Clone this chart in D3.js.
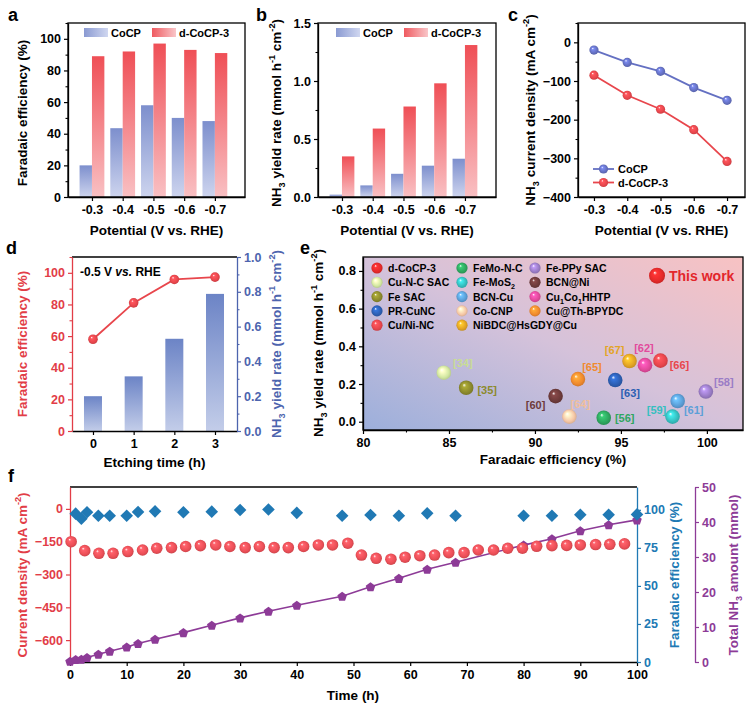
<!DOCTYPE html>
<html><head><meta charset="utf-8">
<script src="https://cdn.jsdelivr.net/npm/d3@7"></script>
<style>body{margin:0;background:#fff}</style>
</head><body>
<svg id="chart" width="751" height="705"></svg>
<script>
// ---------------- DATA ----------------
const potentialLabels = ["-0.3", "-0.4", "-0.5", "-0.6", "-0.7"];
const potentials = [-0.3, -0.4, -0.5, -0.6, -0.7];
const seriesNames = ["CoCP", "d-CoCP-3"];
const feCoCP = [20, 43.5, 58, 50, 48];
const feDCoCP3 = [89, 92, 97, 93, 91];
const yieldCoCP = [0.02, 0.10, 0.20, 0.27, 0.33];
const yieldDCoCP3 = [0.35, 0.59, 0.78, 0.98, 1.31];
const currentCoCP = [-20, -52, -75, -117, -150];
const currentDCoCP3 = [-85, -137, -173, -226, -308];

const etchingTimes = [0, 1, 2, 3];
const etchingFE = [58, 81, 95.8, 97.3];
const etchingYield = [0.20, 0.314, 0.53, 0.788];

const catalystNames = ["d-CoCP-3", "Cu-N-C SAC", "Fe SAC", "PR-CuNC", "Cu/Ni-NC",
  "FeMo-N-C", "Fe-MoS2", "BCN-Cu", "Co-CNP", "NiBDC@HsGDY@Cu",
  "Fe-PPy SAC", "BCN@Ni", "Cu1Co1HHTP", "Cu@Th-BPYDC"];
const catalystFE = [97.1, 84.7, 86.0, 94.67, 97.3, 94.0, 98.0, 98.3, 92.0, 95.5, 99.94, 91.2, 96.4, 92.5];
const catalystYield = [0.775, 0.26, 0.18, 0.221, 0.324, 0.021, 0.027, 0.11, 0.027, 0.322, 0.16, 0.136, 0.30, 0.226];
const catalystRefs = ["This work", "[34]", "[35]", "[63]", "[66]", "[56]", "[59]", "[61]", "[64]", "[67]", "[58]", "[60]", "[62]", "[65]"];

const stabTimeJ = [0.2, 2.6, 5.1, 7.6, 10.2, 12.8, 15.3, 17.9, 20.4, 23, 25.7, 28.2, 30.9, 33.4, 36, 38.5, 41.2, 43.8, 46.3, 49,
  51.4, 54, 56.6, 59.1, 61.7, 64.3, 66.8, 69.5, 72, 74.7, 77.2, 79.8, 82.3, 85, 87.6, 90, 92.7, 95.2, 97.8];
const stabCurrent = [-150, -191, -203, -203, -195, -188, -180, -177, -172, -168, -165, -172, -177, -172, -177, -177, -172, -165, -165, -157,
  -211, -226, -230, -221, -214, -211, -200, -200, -188, -188, -180, -180, -171, -168, -167, -165, -163, -162, -160];
const stabTimeFE = [1, 2, 3, 5, 7, 10, 12, 15, 20, 25, 30, 35, 40, 48, 53, 58, 63, 68, 80, 85, 90, 95, 100];
const stabFE = [97.5, 94.2, 98.4, 96.1, 96.1, 96.1, 98.6, 99, 98.4, 98.8, 99.9, 100.2, 98, 96.1, 96.6, 96.1, 97.7, 96.1, 96.1, 96.1, 96.8, 96.8, 97];
const stabTimeNH3 = [0, 1, 2, 3, 5, 7, 10, 12, 15, 20, 25, 30, 35, 40, 48, 53, 58, 63, 68, 80, 85, 90, 95, 100];
const stabNH3 = [0.2, 0.7, 0.8, 1.3, 2.2, 3.1, 4.3, 5.3, 6.5, 8.4, 10.5, 12.6, 14.5, 16.2, 18.8, 21.5, 23.9, 26.5, 28.5, 33.4, 35.2, 37.5, 39.2, 40.6];

// ---------------- STYLE ----------------
const FONT = '"Liberation Sans", Arial, Helvetica, sans-serif';
const TICK_FS = 12.5, TITLE_FS = 13.5;
const catalystColors = ["#e52a2a", "#d3e8a2", "#8c8a2c", "#2c5fb3", "#e8464c", "#2ea65f", "#35bfc0", "#5b9fd8",
  "#f6c7a6", "#e3a424", "#9a7cc6", "#6e3b3b", "#e24a9c", "#f08a2e"];
const refOffsets = [[0, 0], [19, -10], [21, 2], [15, 13], [19, 4], [21, 0], [-16, -7], [16, 9], [11, -13], [-15, -11], [18, -10], [-20, 9], [-1, -17], [14, -12]];

const svg = d3.select("#chart");
const defs = svg.append("defs");

function linGrad(id, c1, c2, horiz) {
  const g = defs.append("linearGradient").attr("id", id)
    .attr("x1", 0).attr("y1", 0).attr("x2", horiz ? 1 : 0).attr("y2", horiz ? 0 : 1);
  g.append("stop").attr("offset", 0).attr("stop-color", c1);
  g.append("stop").attr("offset", 1).attr("stop-color", c2);
  return `url(#${id})`;
}
let sphereCount = 0;
function sphere(color) {
  const id = "sph" + (sphereCount++);
  const g = defs.append("radialGradient").attr("id", id)
    .attr("cx", 0.5).attr("cy", 0.5).attr("r", 0.55).attr("fx", 0.35).attr("fy", 0.3);
  const c = d3.color(color);
  g.append("stop").attr("offset", 0).attr("stop-color", "#ffffff");
  g.append("stop").attr("offset", 0.22).attr("stop-color", c.brighter(0.6).formatHex());
  g.append("stop").attr("offset", 0.7).attr("stop-color", color);
  g.append("stop").attr("offset", 1).attr("stop-color", c.darker(0.5).formatHex());
  return `url(#${id})`;
}

function rich(sel, parts, fs) {
  let cur = 0;
  parts.forEach(p => {
    let shift = 0, size = fs;
    if (p.sub) { shift = fs * 0.3; size = fs * 0.68; }
    if (p.sup) { shift = -fs * 0.4; size = fs * 0.68; }
    sel.append("tspan").attr("dy", shift - cur).attr("font-size", size).text(p.t);
    cur = shift;
  });
  return sel;
}
function txt(x, y, str, opts = {}) {
  return svg.append("text").attr("x", x).attr("y", y)
    .attr("font-family", FONT).attr("font-weight", "bold")
    .attr("font-size", opts.fs || TITLE_FS).attr("fill", opts.color || "#000")
    .attr("text-anchor", opts.anchor || "start").text(str);
}
function vtitle(cx, cy, parts, color, fs = TITLE_FS) {
  const t = svg.append("text").attr("transform", `translate(${cx + fs * 0.36},${cy}) rotate(-90)`)
    .attr("text-anchor", "middle").attr("font-family", FONT).attr("font-weight", "bold")
    .attr("font-size", fs).attr("fill", color);
  return rich(t, parts, fs);
}
function htitle(cx, cy, parts, color = "#000", fs = TITLE_FS) {
  const t = svg.append("text").attr("x", cx).attr("y", cy + fs * 0.36)
    .attr("text-anchor", "middle").attr("font-family", FONT).attr("font-weight", "bold")
    .attr("font-size", fs).attr("fill", color);
  return rich(t, parts, fs);
}
function axis(gen, tx, ty, color = "#000", fs = TICK_FS) {
  const g = svg.append("g").attr("transform", `translate(${tx},${ty})`).call(gen);
  g.attr("font-size", null).attr("font-family", null);
  g.selectAll(".domain").attr("stroke", color).attr("stroke-width", 1.3);
  g.selectAll(".tick line").attr("stroke", color).attr("stroke-width", 1.2);
  g.selectAll(".tick text").attr("fill", color).attr("font-size", fs)
    .attr("font-weight", "bold").attr("font-family", FONT);
  return g;
}
function minor(gen, tx, ty, color = "#000") {
  const g = svg.append("g").attr("transform", `translate(${tx},${ty})`)
    .call(gen.tickSize(2.5).tickFormat(""));
  g.select(".domain").remove();
  g.selectAll(".tick line").attr("stroke", color).attr("stroke-width", 1.1);
  return g;
}
function frame(x0, y0, x1, y1) {
  svg.append("rect").attr("x", x0).attr("y", y0).attr("width", x1 - x0).attr("height", y1 - y0)
    .attr("fill", "none").attr("stroke", "#000").attr("stroke-width", 1.3);
}
function hline(x0, x1, y, c) { svg.append("line").attr("x1", x0).attr("x2", x1).attr("y1", y).attr("y2", y).attr("stroke", c).attr("stroke-width", 1.3); }

const yieldTitle = [{ t: "NH" }, { t: "3", sub: 1 }, { t: " yield rate (mmol h" }, { t: "-1", sup: 1 }, { t: " cm" }, { t: "-2", sup: 1 }, { t: ")" }];
const potTitle = [{ t: "Potential (V vs. RHE)" }];

const blueTop = "#7d8fcd", blueBot = "#cdd4ee", redTop = "#ef4f56", redBot = "#f9c0c3";

// ---------------- PANEL a & b ----------------
function barPanel(px0, px1, dom, yDom, yTicks, yMinor, fmt, v1, v2, legendX, title, titleX) {
  const top = 23, bot = 197;
  const x = d3.scaleLinear().domain(dom).range([px0, px1]);
  const y = d3.scaleLinear().domain(yDom).range([bot, top]);
  const bw = 12.4;
  potentials.forEach((p, i) => {
    svg.append("rect").attr("x", x(p) - bw).attr("y", y(v1[i])).attr("width", bw).attr("height", y(0) - y(v1[i]))
      .attr("fill", linGrad(`gb${px0}_${i}`, blueTop, blueBot));
    svg.append("rect").attr("x", x(p)).attr("y", y(v2[i])).attr("width", bw).attr("height", y(0) - y(v2[i]))
      .attr("fill", linGrad(`gr${px0}_${i}`, redTop, redBot));
  });
  axis(d3.axisLeft(y).tickValues(yTicks).tickFormat(fmt).tickSize(4).tickSizeOuter(0), px0, 0);
  minor(d3.axisLeft(y).tickValues(yMinor), px0, 0);
  axis(d3.axisBottom(x).tickValues(potentials).tickFormat((d, i) => potentialLabels[i]).tickSize(4).tickSizeOuter(0).tickPadding(4), 0, bot);
  frame(px0, top, px1, bot);
  // legend
  svg.append("rect").attr("x", legendX[0]).attr("y", 28).attr("width", 24).attr("height", 9).attr("fill", linGrad(`lb${px0}`, "#8a9ad2", "#d0d7f0", true));
  txt(legendX[0] + 27, 37, seriesNames[0], { fs: 11 });
  svg.append("rect").attr("x", legendX[1]).attr("y", 28).attr("width", 24).attr("height", 9).attr("fill", linGrad(`lr${px0}`, "#ef5a60", "#f9c6c9", true));
  txt(legendX[1] + 27, 37, seriesNames[1], { fs: 11 });
  vtitle(titleX, (top + bot) / 2 + 3, title, "#000");
  htitle((px0 + px1) / 2, 230, potTitle);
}
barPanel(68, 245, [-0.222, -0.798], [0, 110], d3.range(0, 101, 20), d3.range(10, 111, 20), d3.format("d"),
  feCoCP, feDCoCP3, [84, 152], [{ t: "Faradaic efficiency (%)" }], 22);
barPanel(318, 496, [-0.222, -0.801], [0, 1.5], [0, 0.5, 1.0, 1.5], [0.25, 0.75, 1.25], d3.format(".1f"),
  yieldCoCP, yieldDCoCP3, [336, 404], yieldTitle, 276);
txt(8, 21, "a", { fs: 18 });
txt(256, 21, "b", { fs: 18 });

// ---------------- PANEL c ----------------
(function () {
  const x0 = 578, x1 = 745, top = 23, bot = 197;
  const x = d3.scaleLinear().domain([-0.252, -0.754]).range([x0, x1]);
  const y = d3.scaleLinear().domain([-400, 50]).range([bot, top]);
  axis(d3.axisLeft(y).tickValues(d3.range(-400, 1, 100)).tickSize(4).tickSizeOuter(0), x0, 0);
  minor(d3.axisLeft(y).tickValues(d3.range(-350, 51, 100)), x0, 0);
  axis(d3.axisBottom(x).tickValues(potentials).tickFormat((d, i) => potentialLabels[i]).tickSize(4).tickSizeOuter(0).tickPadding(4), 0, bot);
  frame(x0, top, x1, bot);
  const cols = ["#6470c2", "#e8464c"];
  [currentCoCP, currentDCoCP3].forEach((vals, k) => {
    const line = d3.line().x((d, i) => x(potentials[i])).y(d => y(d));
    svg.append("path").attr("d", line(vals)).attr("fill", "none").attr("stroke", cols[k]).attr("stroke-width", 1.8);
    const f = sphere(cols[k]);
    vals.forEach((v, i) => svg.append("circle").attr("cx", x(potentials[i])).attr("cy", y(v)).attr("r", 4.6).attr("fill", f));
    // legend
    const ly = 169 + k * 13.5;
    svg.append("line").attr("x1", 593).attr("x2", 614).attr("y1", ly).attr("y2", ly).attr("stroke", cols[k]).attr("stroke-width", 1.8);
    svg.append("circle").attr("cx", 603.5).attr("cy", ly).attr("r", 4.6).attr("fill", f);
    txt(618, ly + 4, seriesNames[k], { fs: 11 });
  });
  vtitle(530, 110, [{ t: "NH" }, { t: "3", sub: 1 }, { t: " current density (mA cm" }, { t: "-2", sup: 1 }, { t: ")" }], "#000");
  htitle((x0 + x1) / 2, 230, potTitle);
  txt(508, 21, "c", { fs: 18 });
})();

// ---------------- PANEL d ----------------
(function () {
  const x0 = 72, x1 = 237, top = 257, bot = 431;
  const red = "#e23d47", blue = "#4d64ae";
  const x = d3.scaleLinear().domain([-0.516, 3.541]).range([x0, x1]);
  const yL = d3.scaleLinear().domain([0, 110]).range([bot, top]);
  const yR = d3.scaleLinear().domain([0, 1.0]).range([bot, top]);
  etchingTimes.forEach((t, i) => {
    svg.append("rect").attr("x", x(t) - 9).attr("y", yR(etchingYield[i])).attr("width", 18)
      .attr("height", yR(0) - yR(etchingYield[i])).attr("fill", linGrad("gd" + i, "#6c84c6", "#c3cde9"));
  });
  const line = d3.line().x((d, i) => x(etchingTimes[i])).y(d => yL(d));
  svg.append("path").attr("d", line(etchingFE)).attr("fill", "none").attr("stroke", "#e8464c").attr("stroke-width", 1.8);
  const f = sphere("#e8464c");
  etchingFE.forEach((v, i) => svg.append("circle").attr("cx", x(etchingTimes[i])).attr("cy", yL(v)).attr("r", 4.8).attr("fill", f));
  hline(x0, x1, top, "#000");
  axis(d3.axisBottom(x).tickValues(etchingTimes).tickFormat(d3.format("d")).tickSize(4).tickSizeOuter(0).tickPadding(4), 0, bot);
  axis(d3.axisLeft(yL).tickValues(d3.range(0, 101, 20)).tickSize(4).tickSizeOuter(0), x0, 0, red);
  minor(d3.axisLeft(yL).tickValues(d3.range(10, 111, 20)), x0, 0, red);
  axis(d3.axisRight(yR).tickValues(d3.range(0, 1.01, 0.2)).tickFormat(d3.format(".1f")).tickSize(4).tickSizeOuter(0), x1, 0, blue);
  minor(d3.axisRight(yR).tickValues([0.1, 0.3, 0.5, 0.7, 0.9]), x1, 0, blue);
  const t = txt(80, 276, "", { fs: 12 });
  t.append("tspan").text("-0.5 V ");
  t.append("tspan").attr("font-style", "italic").text("vs.");
  t.append("tspan").text(" RHE");
  vtitle(22, 344, [{ t: "Faradaic efficiency (%)" }], red);
  vtitle(276, 344, yieldTitle, blue);
  htitle((x0 + x1) / 2, 462, [{ t: "Etching time (h)" }]);
  txt(6, 254, "d", { fs: 18 });
})();

// ---------------- PANEL e ----------------
(function () {
  const x0 = 363, x1 = 743, top = 257, bot = 430;
  const x = d3.scaleLinear().domain([80, 102.1]).range([x0, x1]);
  const y = d3.scaleLinear().domain([-0.044, 0.874]).range([bot, top]);
  const bg = defs.append("linearGradient").attr("id", "ebg").attr("x1", 0).attr("y1", 1).attr("x2", 1).attr("y2", 0);
  bg.append("stop").attr("offset", 0).attr("stop-color", "#9cafdb");
  bg.append("stop").attr("offset", 0.5).attr("stop-color", "#d5c2da");
  bg.append("stop").attr("offset", 1).attr("stop-color", "#f8c2c3");
  svg.append("rect").attr("x", x0).attr("y", top).attr("width", x1 - x0).attr("height", bot - top).attr("fill", "url(#ebg)");
  axis(d3.axisLeft(y).tickValues([0, 0.2, 0.4, 0.6, 0.8]).tickFormat(d3.format(".1f")).tickSize(4).tickSizeOuter(0), x0, 0);
  minor(d3.axisLeft(y).tickValues([0.1, 0.3, 0.5, 0.7]), x0, 0);
  axis(d3.axisBottom(x).tickValues([80, 85, 90, 95, 100]).tickSize(4).tickSizeOuter(0).tickPadding(4), 0, bot);
  minor(d3.axisBottom(x).tickValues([82.5, 87.5, 92.5, 97.5]), 0, bot);
  frame(x0, top, x1, bot);
  const fills = catalystColors.map(c => sphere(c));
  // legend
  const colX = [377, 462, 535];
  catalystNames.forEach((n, i) => {
    const cx = colX[Math.floor(i / 5)], cy = 268 + (i % 5) * 14.3;
    svg.append("circle").attr("cx", cx).attr("cy", cy).attr("r", 5.6).attr("fill", fills[i]);
    const t = txt(cx + 11, cy + 4, "", { fs: 10.5 });
    if (n === "Fe-MoS2") rich(t, [{ t: "Fe-MoS" }, { t: "2", sub: 1 }], 10.5);
    else if (n === "Cu1Co1HHTP") rich(t, [{ t: "Cu" }, { t: "1", sub: 1 }, { t: "Co" }, { t: "1", sub: 1 }, { t: "HHTP" }], 10.5);
    else t.text(n);
  });
  // points
  catalystNames.forEach((n, i) => {
    const px = x(catalystFE[i]), py = y(catalystYield[i]);
    if (i === 0) {
      svg.append("circle").attr("cx", px).attr("cy", py).attr("r", 8).attr("fill", fills[i]);
      txt(px + 12, py + 5, catalystRefs[i], { fs: 14, color: "#e3262b" });
    } else {
      svg.append("circle").attr("cx", px).attr("cy", py).attr("r", 7.3).attr("fill", fills[i]);
      const c = i === 1 ? "#c9dd95" : (i === 8 ? "#f0bf9c" : catalystColors[i]);
      txt(px + refOffsets[i][0], py + refOffsets[i][1] + 4, catalystRefs[i], { fs: 11, color: c, anchor: "middle" });
    }
  });
  vtitle(318, 343, yieldTitle, "#000");
  htitle((x0 + x1) / 2, 459, [{ t: "Faradaic efficiency (%)" }]);
  txt(300, 254, "e", { fs: 18 });
})();

// ---------------- PANEL f ----------------
(function () {
  const x0 = 70, x1 = 637, top = 487, bot = 662;
  const red = "#e23d47", blue = "#2079b4", purple = "#8d3b97";
  const x = d3.scaleLinear().domain([0, 100]).range([x0, x1]);
  const yJ = d3.scaleLinear().domain([-700, 100]).range([bot, top]);
  const yFE = d3.scaleLinear().domain([0, 115]).range([bot, top]);
  const yN = d3.scaleLinear().domain([0, 50]).range([bot, top]);
  hline(x0, x1, top, "#000");
  axis(d3.axisBottom(x).tickValues(d3.range(0, 101, 10)).tickSize(4).tickSizeOuter(0).tickPadding(4), 0, bot);
  axis(d3.axisLeft(yJ).tickValues([-600, -450, -300, -150, 0]).tickSize(4).tickSizeOuter(0), x0, 0, red);
  axis(d3.axisRight(yFE).tickValues([0, 25, 50, 75, 100]).tickSize(4).tickSizeOuter(0), x1, 0, blue);
  axis(d3.axisRight(yN).tickValues(d3.range(0, 51, 10)).tickSize(4).tickSizeOuter(0), 695, 0, purple);
  // NH3 line + pentagons
  const line = d3.line().x((d, i) => x(stabTimeNH3[i])).y(d => yN(d));
  svg.append("path").attr("d", line(stabNH3)).attr("fill", "none").attr("stroke", purple).attr("stroke-width", 1.6);
  const pent = d3.line()(d3.range(5).map(k => { const a = -Math.PI / 2 + k * 2 * Math.PI / 5; return [5 * Math.cos(a), 5 * Math.sin(a)]; })) + "Z";
  stabNH3.forEach((v, i) => svg.append("path").attr("d", pent).attr("transform", `translate(${x(stabTimeNH3[i])},${yN(v) + 0.5})`).attr("fill", purple));
  // current spheres
  const rf = sphere("#ec4f57");
  stabCurrent.forEach((v, i) => svg.append("circle").attr("cx", x(stabTimeJ[i])).attr("cy", yJ(v)).attr("r", 5.8).attr("fill", rf));
  // FE diamonds
  const dia = "M0,-6.3L6.3,0L0,6.3L-6.3,0Z";
  stabFE.forEach((v, i) => svg.append("path").attr("d", dia).attr("transform", `translate(${x(stabTimeFE[i])},${yFE(v)})`).attr("fill", blue));
  vtitle(22, 575, [{ t: "Current density (mA cm" }, { t: "-2", sup: 1 }, { t: ")" }], red);
  vtitle(674, 575, [{ t: "Faradaic efficiency (%)" }], blue);
  vtitle(733, 575, [{ t: "Total NH" }, { t: "3", sub: 1 }, { t: " amount (mmol)" }], purple);
  htitle(353, 695, [{ t: "Time (h)" }]);
  txt(8, 482, "f", { fs: 18 });
})();
</script>
</body></html>
